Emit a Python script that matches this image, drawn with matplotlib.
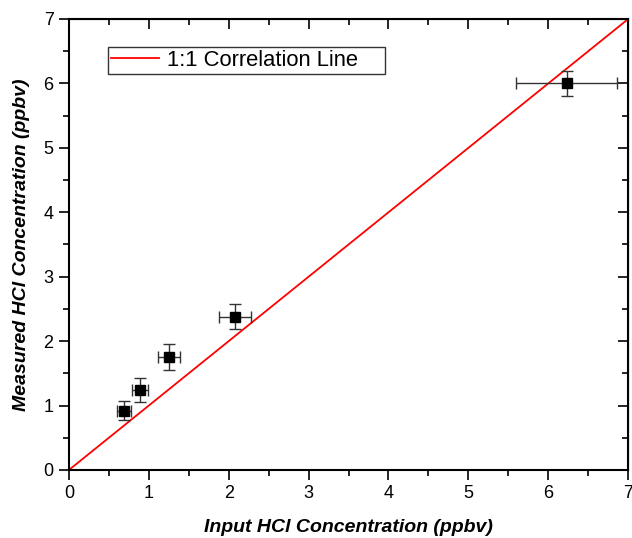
"""
Measured vs input HCl concentration with a 1:1 correlation line.
"""

import matplotlib
matplotlib.use("Agg")
import matplotlib.pyplot as plt
import numpy as np
from matplotlib.ticker import MultipleLocator

plt.rcParams["font.family"] = ["Liberation Sans", "DejaVu Sans"]

# ---------------------------------------------------------------------------
# Data
# ---------------------------------------------------------------------------
input_conc = [0.69, 0.89, 1.25, 2.08, 6.23]
measured_conc = [0.92, 1.24, 1.75, 2.38, 6.00]
input_err = [0.09, 0.10, 0.14, 0.20, 0.63]
measured_err = [0.15, 0.19, 0.20, 0.19, 0.20]
one_to_one = [0, 7]

fig = plt.figure(figsize=(6.32, 5.38), dpi=100)
ax = fig.add_axes([0.109, 0.1264, 0.885, 0.8383])

# trailing spaces give the legend box the wide right margin of the original
ax.plot(one_to_one, one_to_one, color="red", linewidth=1.3,
        label="1:1 Correlation Line    ", zorder=2)
ax.errorbar(input_conc, measured_conc, xerr=input_err, yerr=measured_err,
            fmt="s", color="black", markersize=7, ecolor="#333333",
            elinewidth=1.0, capsize=4, capthick=1.0, zorder=3)

ax.set_xlim(0, 7)
ax.set_ylim(0, 7)
ax.xaxis.set_major_locator(MultipleLocator(1))
ax.xaxis.set_minor_locator(MultipleLocator(0.5))
ax.yaxis.set_major_locator(MultipleLocator(1))
ax.yaxis.set_minor_locator(MultipleLocator(0.5))

# outward ticks left/bottom, inward ticks on the top/right spines
ax.tick_params(which="both", direction="out", top=False, right=False,
               width=1.2, labelsize=13, pad=4)
ax.tick_params(which="major", length=7)
ax.tick_params(which="minor", length=4)
for spine in ax.spines.values():
    spine.set_linewidth(1.5)

sec_x = ax.secondary_xaxis("top")
sec_x.xaxis.set_major_locator(MultipleLocator(1))
sec_x.xaxis.set_minor_locator(MultipleLocator(0.5))
sec_x.tick_params(which="both", direction="in", labeltop=False, width=1.2)
sec_x.tick_params(which="major", length=7)
sec_x.tick_params(which="minor", length=4)
sec_y = ax.secondary_yaxis("right")
sec_y.yaxis.set_major_locator(MultipleLocator(1))
sec_y.yaxis.set_minor_locator(MultipleLocator(0.5))
sec_y.tick_params(which="both", direction="in", labelright=False, width=1.2)
sec_y.tick_params(which="major", length=7)
sec_y.tick_params(which="minor", length=4)

ax.set_xlabel("Input HCl Concentration (ppbv)", fontsize=14,
              fontweight="bold", fontstyle="italic", labelpad=12)
ax.set_ylabel("Measured HCl Concentration (ppbv)", fontsize=14,
              fontweight="bold", fontstyle="italic", labelpad=10)

leg = ax.legend(loc="upper left", bbox_to_anchor=(0.07, 0.937), fontsize=15.8,
                frameon=True, fancybox=False, edgecolor="black",
                handlelength=2.2, borderpad=0.12, handletextpad=0.35,
                borderaxespad=0)
leg.get_frame().set_linewidth(1.0)

fig.savefig("out.png", dpi=100)
